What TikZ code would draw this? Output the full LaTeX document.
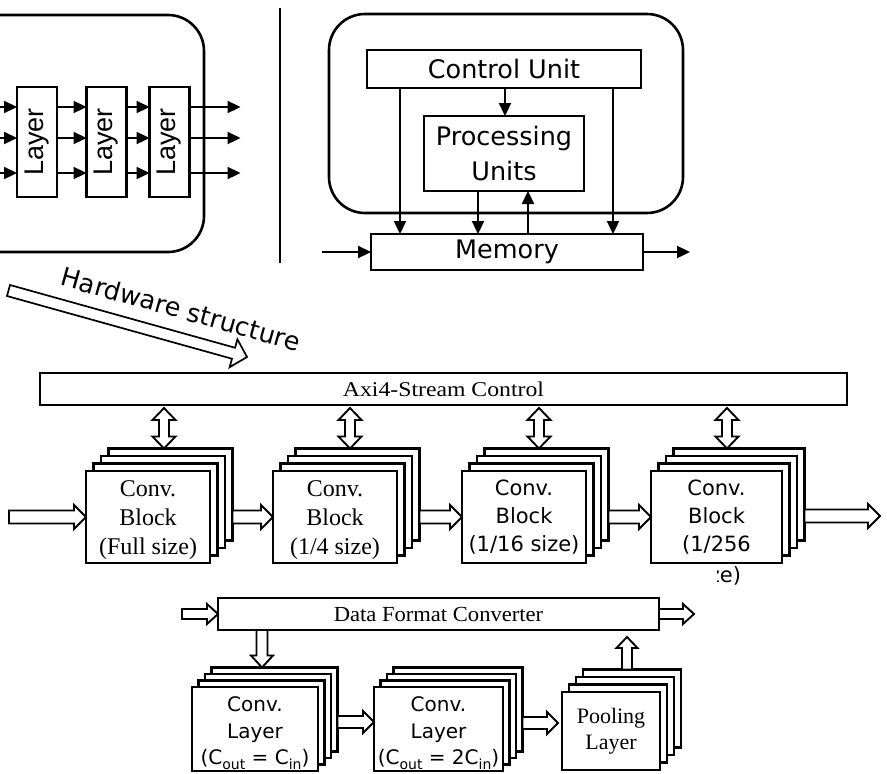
\documentclass[tikz,border=0pt]{standalone}
\usepackage{fontspec}
\setmainfont{Liberation Serif}
\newfontfamily\dvs{DejaVu Sans}
\newfontfamily\lsans{Liberation Sans}
\newfontfamily\serxa[FakeStretch=1.13]{Liberation Serif}
\newfontfamily\serxb[FakeStretch=1.05]{Liberation Serif}
\usetikzlibrary{calc,arrows.meta}

\newcommand\lsub[1]{\raisebox{-0.22em}{\fontsize{14}{14}\selectfont #1}}

\tikzset{
  arrsw/.store in=\hsw, arrhw/.store in=\hhw, arrhl/.store in=\hhl,
  arrsw=6.5pt, arrhw=12pt, arrhl=12pt,
  hollow/.style={draw, fill=white, line width=1.9pt, line join=miter,
    to path={let \p1=($(\tikztotarget)!\hhl!(\tikztostart)$) in
      ($(\tikztostart)!\hsw!90:(\tikztotarget)$) -- ($(\p1)!\hsw!90:(\tikztotarget)$)
      -- ($(\p1)!\hhw!90:(\tikztotarget)$) -- (\tikztotarget)
      -- ($(\p1)!\hhw!-90:(\tikztotarget)$) -- ($(\p1)!\hsw!-90:(\tikztotarget)$)
      -- ($(\tikztostart)!\hsw!-90:(\tikztotarget)$) -- cycle}},
  hollowtwo/.style={draw, fill=white, line width=1.9pt, line join=miter,
    to path={let \p1=($(\tikztostart)!\hhl!(\tikztotarget)$), \p2=($(\tikztotarget)!\hhl!(\tikztostart)$) in
      (\tikztostart) -- ($(\p1)!\hhw!90:(\tikztotarget)$) -- ($(\p1)!\hsw!90:(\tikztotarget)$)
      -- ($(\p2)!\hsw!-90:(\tikztostart)$) -- ($(\p2)!\hhw!-90:(\tikztostart)$) -- (\tikztotarget)
      -- ($(\p2)!\hhw!90:(\tikztostart)$) -- ($(\p2)!\hsw!90:(\tikztostart)$)
      -- ($(\p1)!\hsw!-90:(\tikztotarget)$) -- ($(\p1)!\hhw!-90:(\tikztotarget)$) -- cycle}},
  box/.style={draw, line width=2.4pt, fill=white, inner sep=0pt, outer sep=0pt},
  arr/.style={line width=2.3pt, -{Triangle[length=13pt,width=12pt]}},
  rbox/.style={draw, line width=2.6pt, inner sep=0pt, outer sep=0pt},
  sansbig/.style={font=\dvs\fontsize{25.5}{35}\selectfont},
  blockserif/.style={align=center, font=\fontsize{24}{29}\selectfont},
  blocksans/.style={align=center, font=\dvs\fontsize{21}{28}\selectfont},
  layersans/.style={align=center, font=\dvs\fontsize{20}{26.5}\selectfont},
}

% name, cx, cy, w, h, dx, dy : three back copies of a box
\newcommand\stackbox[7]{%
  \foreach \k in {3,2,1}{%
    \node[box, minimum width=#4pt, minimum height=#5pt] (#1-\k) at ({#2+\k*#6},{#3-\k*#7}) {};}%
}

\begin{document}
\begin{tikzpicture}[x=1pt,y=-1pt]
\useasboundingbox (0,0) rectangle (887,774);

% ---------- top left: streaming layers ----------
\node[rbox, rounded corners=36pt, minimum width=280pt, minimum height=237pt] (tl) at (64,133.5) {};
\node[box, minimum width=40pt, minimum height=110pt] (l1) at (37,142) {};
\node[box, minimum width=40pt, minimum height=110pt] (l2) at (106.5,142) {};
\node[box, minimum width=40pt, minimum height=110pt] (l3) at (169.5,142) {};
\node[rotate=90, font=\lsans\fontsize{27}{30}\selectfont] (l1t) at (l1.center) {Layer};
\node[rotate=90, font=\lsans\fontsize{27}{30}\selectfont] (l2t) at (l2.center) {Layer};
\node[rotate=90, font=\lsans\fontsize{27}{30}\selectfont] (l3t) at (l3.center) {Layer};
\foreach \s/\n in {35/a,4/b,-31/c}{%
  \coordinate (in\n) at ($(l1.west)+(-22,{-(\s)})$);
  \coordinate (out\n) at ($(l3.east)+(51,{-(\s)})$);
  \draw[arr] (in\n) -- ([yshift=\s pt]l1.west);
  \draw[arr] ([yshift=\s pt]l1.east) -- ([yshift=\s pt]l2.west);
  \draw[arr] ([yshift=\s pt]l2.east) -- ([yshift=\s pt]l3.west);
  \draw[arr] ([yshift=\s pt]l3.east) -- (out\n);
}

% separator
\coordinate (sepa) at (280,8);
\coordinate (sepb) at (280,263);
\draw[line width=2.4pt] (sepa) -- (sepb);

% ---------- top right: control flow ----------
\node[rbox, rounded corners=36pt, minimum width=354pt, minimum height=199pt] (tr) at (506,113.5) {};
\node[box, sansbig, minimum width=274pt, minimum height=38pt] (cu) at (504,69) {Control Unit};
\node[box, sansbig, align=center, minimum width=160pt, minimum height=75pt] (pu) at (504,153.5) {Processing\\Units};
\node[box, sansbig, minimum width=272pt, minimum height=36pt] (mem) at (507,252) {Memory};
\draw[arr] ([xshift=-104pt]cu.south) -- ([xshift=-107pt]mem.north);
\draw[arr] ([xshift=109pt]cu.south) -- ([xshift=106pt]mem.north);
\draw[arr] ([xshift=1pt]cu.south) -- ([xshift=1pt]pu.north);
\draw[arr] ([xshift=-26pt]pu.south) -- ([xshift=-29pt]mem.north);
\draw[arr] ([xshift=21pt]mem.north) -- ([xshift=24pt]pu.south);
\coordinate (memin) at (322,252);
\coordinate (memout) at (690,252);
\draw[arr] (memin) -- (mem.west);
\draw[arr] (mem.east) -- (memout);

% ---------- hardware structure arrow ----------
\coordinate (hsa) at (8.5,290.5);
\coordinate (hsb) at (247,357);
\draw[hollow, line width=1.7pt, arrsw=5.7pt, arrhw=14.5pt, arrhl=14pt] (hsa) to (hsb);
\node[font=\dvs\fontsize{25.5}{30}\selectfont, rotate=-15.6] (hst) at (181,309) {Hardware structure};

% ---------- Axi4-Stream and conv blocks ----------
\node[box, minimum width=807pt, minimum height=32pt, font=\serxa\fontsize{21}{24}\selectfont] (axi) at (443.5,389) {Axi4-Stream Control};

\stackbox{b1}{148}{517}{124}{92}{7.5}{7.5}
\node[box, minimum width=124pt, minimum height=92pt] (b1) at (148,517) {};
\node[blockserif] (b1t) at ($(b1)+(0,3.5)$) {Conv.\\Block\\(Full size)};
\stackbox{b2}{335}{517}{124}{92}{7.5}{7.5}
\node[box, minimum width=124pt, minimum height=92pt] (b2) at (335,517) {};
\node[blockserif] (b2t) at ($(b2)+(0,3.5)$) {Conv.\\Block\\(1/4 size)};
\stackbox{b3}{524}{517}{124}{92}{7.5}{7.5}
\node[box, blocksans, minimum width=124pt, minimum height=92pt] (b3) at (524,517) {Conv.\\Block\\(1/16 size)};
\stackbox{b4}{716.5}{517}{131}{92}{7.5}{7.5}
\node[box, blocksans, minimum width=131pt, minimum height=92pt] (b4) at (716.5,517) {Conv.\\Block\\(1/256};
\begin{scope}
  \clip (717,566) rectangle (760,600);
  \node[font=\dvs\fontsize{21}{28}\selectfont, anchor=base, inner sep=0pt] (b4s) at (716.5,582) {size)};
\end{scope}

\foreach \b/\s in {b1/-6.5,b2/-7.5,b3/-7.5,b4/-12}{%
  \draw[hollowtwo, arrsw=5pt, arrhw=11.5pt, arrhl=12pt]
    ($(\b-3.north |- axi.south)+(\s,3)$) to ($(\b-3.north)+(\s,0)$);
}

\coordinate (bin) at (9,517);
\coordinate (bout) at (880,516);
\draw[hollow] (bin) to (b1.west);
\draw[hollow] (b1-3.east |- b1.east) to (b2.west);
\draw[hollow] (b2-3.east |- b2.east) to (b3.west);
\draw[hollow] (b3-3.east |- b3.east) to (b4.west);
\draw[hollow] ($(b4-3.east |- b4.east)+(0,-1)$) to (bout);

% ---------- data format converter section ----------
\node[box, minimum width=441pt, minimum height=32pt, font=\serxb\fontsize{21.5}{24}\selectfont] (dfc) at (438.5,614) {Data Format Converter};
\coordinate (dfcin) at (182,614);
\coordinate (dfcout) at (694,614);
\draw[hollow, arrsw=5pt, arrhw=10pt, arrhl=11pt] (dfcin) to (dfc.west);
\draw[hollow, arrsw=5pt, arrhw=10pt, arrhl=11pt] (dfc.east) to (dfcout);

\stackbox{cl1}{255}{729}{126}{84}{6.5}{6.5}
\node[box, minimum width=126pt, minimum height=84pt] (cl1) at (255,729) {};
\node[layersans] (cl1t) at ($(cl1)+(0,4)$) {Conv.\\Layer\\(C\lsub{out} = C\lsub{in})};
\stackbox{cl2}{438.5}{729}{129}{84}{6.5}{6.5}
\node[box, minimum width=129pt, minimum height=84pt] (cl2) at (438.5,729) {};
\node[layersans] (cl2t) at ($(cl2)+(0,4)$) {Conv.\\Layer\\(C\lsub{out} = 2C\lsub{in})};
\stackbox{pool}{611}{731}{98}{78}{7}{7.5}
\node[box, align=center, font=\fontsize{22}{26}\selectfont, minimum width=98pt, minimum height=78pt] (pool) at (611,731) {Pooling\\Layer};

\draw[hollow, arrsw=5.5pt, arrhw=11pt, arrhl=12pt] ($(cl1-3.north |- dfc.south)+(-12.5,0)$) to ($(cl1-3.north)+(-12.5,0)$);
\draw[hollow, arrsw=6pt, arrhw=11pt, arrhl=11pt] ($(cl1-3.east |- cl1.east)+(0,-7)$) to ($(cl2.west)+(0,-7)$);
\draw[hollow, arrsw=6pt, arrhw=11pt, arrhl=11pt] ($(cl2-3.east |- cl2.east)+(0,-6)$) to ($(pool.west |- cl2.east)+(-4,-6)$);
\draw[hollow, arrsw=5pt, arrhw=10.5pt, arrhl=11pt] ($(pool-3.north)+(-5,0)$) to ($(pool-3.north |- dfc.south)+(-5,7)$);

\end{tikzpicture}
\end{document}
